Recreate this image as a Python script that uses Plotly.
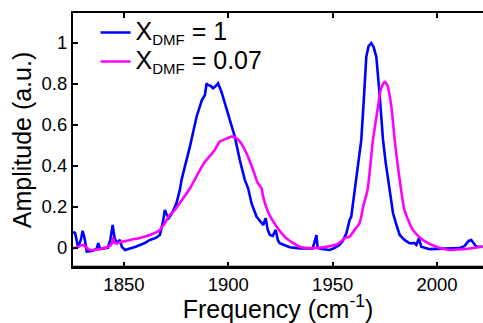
import plotly.graph_objects as go

# X_DMF = 1 (blue)
freq_dmf1 = [1825.6, 1826.6, 1828.0, 1829.4, 1830.2, 1831.1, 1832.2, 1834.7, 1836.9, 1837.7,
             1838.5, 1842.3, 1843.5, 1844.6, 1845.5, 1846.7, 1848.1, 1849.0, 1850.5, 1855.3,
             1860.0, 1862.4, 1865.3, 1867.2, 1868.7, 1869.6, 1870.6, 1871.5, 1873.4, 1875.2,
             1876.8, 1877.6, 1881.6, 1884.8, 1887.3, 1888.8, 1889.6, 1890.2, 1891.6, 1892.7,
             1894.0, 1895.1, 1896.7, 1899.9, 1903.1, 1905.5, 1907.9, 1909.5, 1911.1, 1913.5,
             1916.7, 1917.9, 1918.9, 1919.9, 1921.3, 1922.7, 1923.7, 1924.6, 1929.4, 1934.2,
             1940.4, 1941.6, 1942.2, 1942.8, 1944.7, 1948.6, 1951.0, 1953.3, 1954.8, 1956.6,
             1958.1, 1958.9, 1960.5, 1962.0, 1963.7, 1964.9, 1966.1, 1967.2, 1968.5, 1969.6,
             1970.9, 1972.5, 1974.1, 1975.4, 1976.5, 1978.9, 1980.7, 1982.1, 1984.4, 1986.8,
             1989.2, 1990.1, 1991.3, 1992.4, 1996.4, 2003.6, 2010.8, 2013.2, 2015.1, 2016.4,
             2017.5, 2018.8, 2021.8]
amp_dmf1 = [0.078, 0.073, 0.005, 0.040, 0.084, 0.049, -0.018, -0.015, -0.005, 0.024,
            -0.005, 0.000, 0.040, 0.112, 0.049, 0.024, 0.039, 0.005, -0.010, 0.005,
            0.024, 0.039, 0.049, 0.063, 0.127, 0.185, 0.161, 0.146, 0.176, 0.220,
            0.283, 0.332, 0.494, 0.640, 0.720, 0.746, 0.803, 0.795, 0.790, 0.779,
            0.790, 0.803, 0.762, 0.657, 0.543, 0.429, 0.332, 0.291, 0.218, 0.153,
            0.112, 0.145, 0.088, 0.063, 0.059, 0.088, 0.039, 0.023, 0.003, -0.002,
            -0.002, 0.039, 0.063, 0.000, -0.005, -0.010, 0.000, 0.015, 0.034, 0.072,
            0.137, 0.153, 0.283, 0.405, 0.527, 0.722, 0.933, 0.985, 0.999, 0.980,
            0.933, 0.746, 0.527, 0.415, 0.332, 0.169, 0.107, 0.063, 0.039, 0.023,
            0.024, 0.015, 0.047, 0.006, -0.006, -0.005, -0.001, 0.010, 0.034, 0.039,
            0.024, 0.006, 0.006]

# X_DMF = 0.07 (magenta)
freq_dmf007 = [1825.6, 1826.6, 1828.0, 1830.4, 1832.3, 1833.7, 1838.5, 1843.3, 1844.3, 1844.7,
               1845.5, 1847.1, 1852.9, 1857.7, 1862.4, 1867.2, 1869.6, 1872.0, 1874.4, 1876.8,
               1881.6, 1886.4, 1888.8, 1890.3, 1893.5, 1895.9, 1898.8, 1901.5, 1903.6, 1905.5,
               1908.7, 1911.9, 1914.1, 1915.9, 1916.7, 1919.0, 1923.1, 1927.8, 1934.2, 1940.6,
               1947.0, 1952.5, 1955.7, 1958.1, 1960.5, 1962.9, 1964.8, 1966.7, 1969.3, 1971.7,
               1973.0, 1974.9, 1976.3, 1978.1, 1979.7, 1982.1, 1984.4, 1988.4, 1993.2, 1999.6,
               2006.0, 2012.3, 2021.8]
amp_dmf007 = [0.000, 0.000, 0.005, 0.015, 0.000, -0.010, -0.005, 0.010, 0.024, 0.049,
              0.024, 0.024, 0.039, 0.049, 0.063, 0.088, 0.122, 0.161, 0.185, 0.220,
              0.290, 0.380, 0.420, 0.438, 0.478, 0.519, 0.532, 0.543, 0.537, 0.519,
              0.462, 0.380, 0.317, 0.291, 0.250, 0.177, 0.104, 0.047, 0.006, -0.001,
              0.006, 0.020, 0.047, 0.055, 0.088, 0.122, 0.210, 0.283, 0.527, 0.689,
              0.771, 0.811, 0.790, 0.689, 0.527, 0.332, 0.185, 0.088, 0.039, 0.006,
              -0.010, -0.006, 0.006]

x_ticks = [1850, 1900, 1950, 2000]
y_ticks = [0, 0.2, 0.4, 0.6, 0.8, 1]
y_ticklabels = ["0", "0.2", "0.4", "0.6", "0.8", "1"]

FONT = "Liberation Sans, Arial, Helvetica, sans-serif"


def legend_label(value):
    return ('<span style="font-size:25px">X</span>'
            '<sub><span style="font-size:15px">DMF</span></sub>'
            '<span style="font-size:25px"> = ' + value + '</span>')


fig = go.Figure()
fig.add_trace(go.Scatter(
    x=freq_dmf1, y=amp_dmf1, mode="lines",
    name=legend_label("1"),
    line=dict(color="#0000ff", width=2.6),
))
fig.add_trace(go.Scatter(
    x=freq_dmf007, y=amp_dmf007, mode="lines",
    name=legend_label("0.07"),
    line=dict(color="#ff00ff", width=2.6, shape="spline", smoothing=0.6),
))

fig.update_layout(
    width=483, height=323,
    margin=dict(l=73, r=0, t=13, b=56),
    paper_bgcolor="white", plot_bgcolor="white",
    font=dict(family=FONT, color="black", size=18.5),
    showlegend=True,
    legend=dict(
        x=0.055, y=1.0, xanchor="left", yanchor="top",
        bgcolor="rgba(0,0,0,0)", borderwidth=0,
        font=dict(size=20, family=FONT), itemwidth=30,
        tracegroupgap=0,
    ),
    xaxis=dict(
        range=[1825.6, 2022], tickvals=x_ticks,
        ticks="inside", ticklen=5, tickwidth=2, tickcolor="black",
        showline=True, linecolor="black", linewidth=2, mirror="allticks",
        showgrid=False, zeroline=False,
        tickfont=dict(size=18.5),
        title=dict(text="Frequency (cm<sup>-1</sup>)", font=dict(size=25), standoff=10),
    ),
    yaxis=dict(
        range=[-0.093, 1.146], tickvals=y_ticks, ticktext=y_ticklabels,
        ticks="inside", ticklen=5, tickwidth=2, tickcolor="black",
        showline=True, linecolor="black", linewidth=2, mirror=False,
        showgrid=False, zeroline=False,
        tickfont=dict(size=18.5),
        title=dict(text="Amplitude (a.u.)", font=dict(size=25), standoff=3),
    ),
    shapes=[dict(type="line", xref="paper", yref="paper", x0=0, x1=1, y0=0, y1=0,
                 line=dict(color="black", width=2.5), layer="above")],
)

fig.write_html("out.html")
